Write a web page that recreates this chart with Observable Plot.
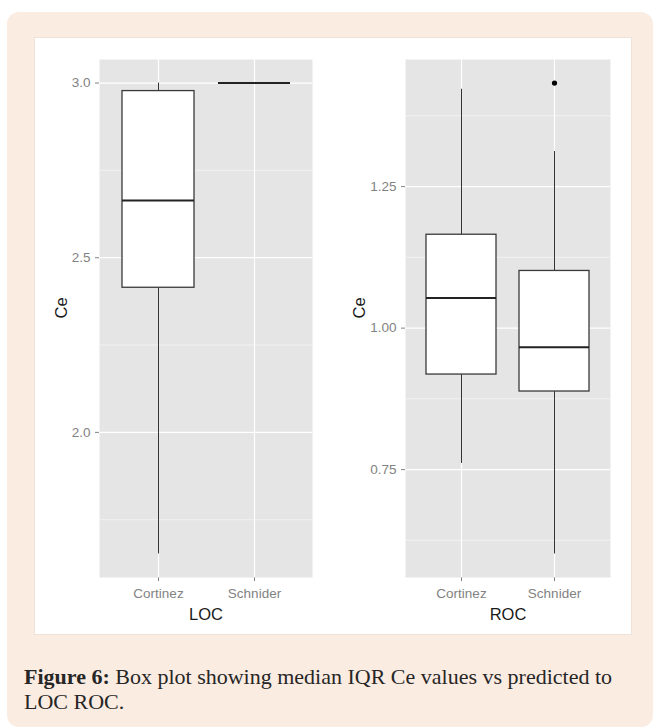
<!DOCTYPE html>
<html>
<head>
<meta charset="utf-8">
<script src="https://cdn.jsdelivr.net/npm/d3@7"></script>
<script src="https://cdn.jsdelivr.net/npm/@observablehq/plot@0.6"></script>
<style>
  html, body { margin: 0; padding: 0; background: #ffffff; }
  #card {
    position: absolute; left: 7px; top: 12px; width: 646px; height: 715px;
    background: #fbece2; border-radius: 12px;
  }
  #panel {
    position: absolute; left: 28px; top: 26px; width: 596px; height: 596px;
    background: #ffffff; box-shadow: 0 0 0 1px #f1e2d8;
  }
  #panel svg { position: absolute; top: 0; }
  #caption {
    position: absolute; left: 17px; top: 652px; width: 630px;
    font-family: "Liberation Serif", serif; font-size: 22px; line-height: 25px;
    color: #262626;
  }
</style>
</head>
<body>
<div id="card">
  <div id="panel"></div>
  <div id="caption"><b>Figure 6:</b> Box plot showing median IQR Ce values vs predicted to<br>LOC ROC.</div>
</div>
<script>
// Categories shared by both panels
const categories = ["Cortinez", "Schnider"];

// LOC panel: five-number summaries per category
const locLower  = [1.652, 3.0];
const locQ1     = [2.414, 3.0];
const locMedian = [2.664, 3.0];
const locQ3     = [2.977, 3.0];
const locUpper  = [3.0,   3.0];
const locOutliers = [];          // {cat, value}
const locTicks = [2.0, 2.5, 3.0];
const locMinor = [1.75, 2.25, 2.75];

// ROC panel
const rocLower  = [0.761, 0.601];
const rocQ1     = [0.918, 0.888];
const rocMedian = [1.053, 0.966];
const rocQ3     = [1.165, 1.101];
const rocUpper  = [1.422, 1.312];
const rocOutliers = [{cat: "Schnider", value: 1.433}];
const rocTicks = [0.75, 1.00, 1.25];
const rocMinor = [0.625, 0.875, 1.125, 1.375];

function summaries(lower, q1, median, q3, upper) {
  return categories.map((cat, i) => ({cat, lower: lower[i], q1: q1[i], median: median[i], q3: q3[i], upper: upper[i]}));
}

function boxPanel({rows, outliers, ticks, minor, digits, xTitle, width, marginLeft}) {
  const values = rows.flatMap(d => [d.lower, d.upper]).concat(outliers.map(d => d.value));
  const [lo, hi] = d3.extent(values);
  const pad = (hi - lo) * 0.05;
  return Plot.plot({
    width, height: 596,
    marginLeft, marginRight: 21, marginTop: 21, marginBottom: 57,
    style: {fontFamily: "'Liberation Sans', Arial, sans-serif", fontSize: "13.5px", color: "#828282", background: "transparent", overflow: "visible"},
    x: {type: "band", domain: categories, paddingInner: 0.25, paddingOuter: 0.225, tickSize: 4, tickPadding: 7, label: null},
    y: {domain: [lo - pad, hi + pad], ticks, tickFormat: d => d.toFixed(digits), tickSize: 4, tickPadding: 5, label: null},
    marks: [
      Plot.frame({fill: "#e5e5e5", stroke: null}),
      Plot.ruleY(minor, {stroke: "#f2f2f2", strokeWidth: 1}),
      Plot.ruleY(ticks, {stroke: "#ffffff", strokeWidth: 1.2}),
      Plot.ruleX(categories, {stroke: "#ffffff", strokeWidth: 1.2}),
      Plot.ruleX(rows, {x: "cat", y1: "q3", y2: "upper", stroke: "#333333", strokeWidth: 1}),
      Plot.ruleX(rows, {x: "cat", y1: "lower", y2: "q1", stroke: "#333333", strokeWidth: 1}),
      Plot.barY(rows, {x: "cat", y1: "q1", y2: "q3", fill: "#ffffff", stroke: "#3a3a3a", strokeWidth: 1.3}),
      Plot.tickY(rows, {x: "cat", y: "median", stroke: "#222222", strokeWidth: 2}),
      Plot.dot(outliers, {x: "cat", y: "value", r: 2.6, fill: "#000000", stroke: null}),
      Plot.text([xTitle], {frameAnchor: "bottom", dy: 42, text: d => d, fill: "#1a1a1a", fontSize: 16.5}),
      Plot.text(["Ce"], {frameAnchor: "left", dx: -(marginLeft - 26), rotate: -90, text: d => d, fill: "#1a1a1a", fontSize: 16.5})
    ]
  });
}

const panel = document.getElementById("panel");

const left = boxPanel({
  rows: summaries(locLower, locQ1, locMedian, locQ3, locUpper),
  outliers: locOutliers, ticks: locTicks, minor: locMinor, digits: 1,
  xTitle: "LOC", width: 298, marginLeft: 64
});
left.style.left = "0px";
panel.appendChild(left);

const right = boxPanel({
  rows: summaries(rocLower, rocQ1, rocMedian, rocQ3, rocUpper),
  outliers: rocOutliers, ticks: rocTicks, minor: rocMinor, digits: 2,
  xTitle: "ROC", width: 298, marginLeft: 72
});
right.style.left = "298px";
panel.appendChild(right);
</script>
</body>
</html>
